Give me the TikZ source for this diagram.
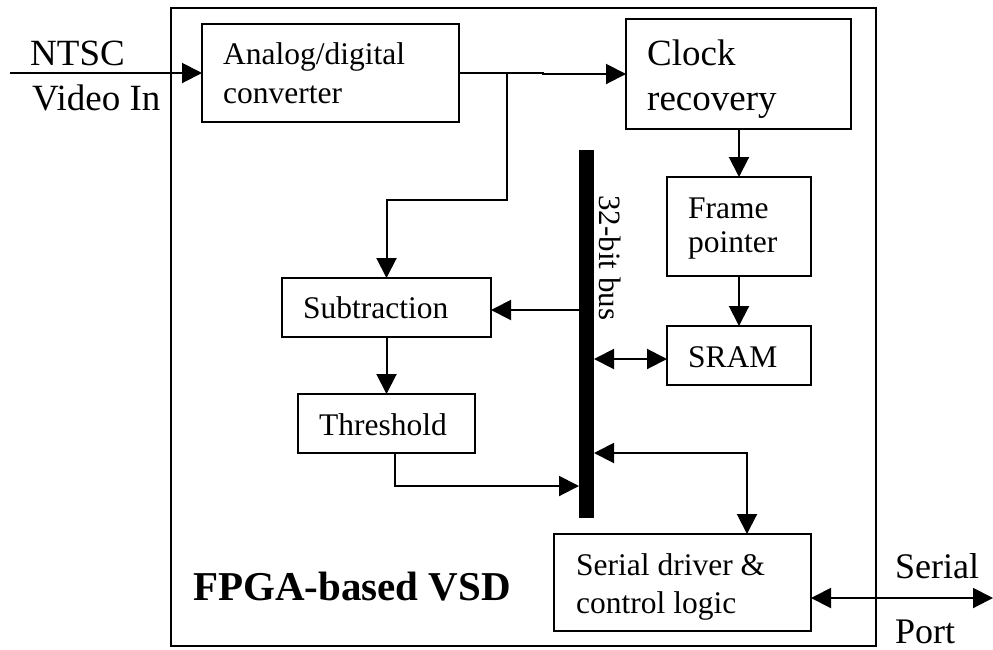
\documentclass[tikz,border=0pt]{standalone}
\usepackage{fontspec}
\setmainfont{Liberation Serif}
\usetikzlibrary{arrows.meta,calc}
\begin{document}
\begin{tikzpicture}[x=1pt,y=-1pt,
  box/.style={draw,line width=2pt,inner sep=0pt,outer sep=0pt,anchor=north west},
  lbl/.style={anchor=base west,inner sep=0pt,font=\fontsize{31.5}{38}\selectfont},
  big/.style={anchor=base west,inner sep=0pt,font=\fontsize{37}{44}\selectfont},
  conn/.style={line width=2pt},
  arr/.style={conn,-{Triangle[length=20pt,width=20pt]}},
  darr/.style={conn,{Triangle[length=20pt,width=20pt]}-{Triangle[length=20pt,width=20pt]}},
]
\useasboundingbox (0,0) rectangle (993,649);
% outer frame
\node[box,line width=2.2pt,minimum width=705pt,minimum height=638pt] (fpga) at (171,8) {};
% boxes
\node[box,minimum width=257pt,minimum height=98pt] (adc) at (202,24) {};
\node[box,minimum width=225pt,minimum height=110pt] (clk) at (626,19) {};
\node[box,minimum width=144pt,minimum height=99pt] (fp) at (667,177) {};
\node[box,minimum width=144pt,minimum height=59pt] (sram) at (667,326) {};
\node[box,minimum width=209pt,minimum height=59pt] (sub) at (282,278) {};
\node[box,minimum width=177pt,minimum height=59pt] (thr) at (298,394) {};
\node[box,minimum width=257pt,minimum height=97pt] (ser) at (554,534) {};
\node[anchor=north west,fill=black,inner sep=0pt,outer sep=0pt,minimum width=15pt,minimum height=368pt] (bus) at (579,150) {};
% texts
\node[big] (ntsc) at (30,65) {NTSC};
\node[big] (vin) at (32,110) {Video In};
\node[lbl] (adct1) at (223,64) {Analog/digital};
\node[lbl] (adct2) at (223,103) {converter};
\node[big] (clkt1) at (647,65) {Clock};
\node[big] (clkt2) at (647,110) {recovery};
\node[lbl] (fpt1) at (688,218) {Frame};
\node[lbl] (fpt2) at (688,252) {pointer};
\node[lbl] (sramt) at (688,367) {SRAM};
\node[lbl] (subt) at (303,318) {Subtraction};
\node[lbl] (thrt) at (319,435) {Threshold};
\node[lbl] (sert1) at (576,575) {Serial driver \&};
\node[lbl] (sert2) at (576,613) {control logic};
\node[anchor=base west,inner sep=0pt,font=\fontsize{36}{43}\selectfont] (sport1) at (895,578) {Serial};
\node[anchor=base west,inner sep=0pt,font=\fontsize{36}{43}\selectfont] (sport2) at (895,643) {Port};
\node[anchor=base west,inner sep=0pt,font=\fontsize{41}{48}\selectfont\bfseries] (title) at (193,600) {FPGA-based VSD};
\node[anchor=base west,inner sep=0pt,rotate=-90,font=\fontsize{31}{37}\selectfont] (bust) at (599,195) {32-bit bus};
% connectors
\coordinate (vinin) at (10,73);
\draw[arr] (vinin) -- (adc.west);
\draw[arr] (adc.east) -- (543,73) |- (clk.west);
\coordinate (br) at (507,73);
\draw[arr] (br) -- (507,200) -| (sub.north);
\draw[arr] (clk.south -| fp.north) -- (fp.north);
\draw[arr] (fp.south) -- (sram.north);
\draw[arr] (bus.west |- 0,310) -- (sub.east |- 0,310);
\draw[darr] (bus.east |- 0,359) -- (sram.west |- 0,359);
\draw[arr] (sub.south) -- (thr.north -| sub.south);
\draw[arr] (thr.south -| 395,0) |- (bus.west |- 0,486);
\draw[darr] (bus.east |- 0,453) -| (ser.north -| 747,0);
\coordinate (port) at (993,598);
\draw[darr] (ser.east |- port) -- (port);
\end{tikzpicture}
\end{document}
